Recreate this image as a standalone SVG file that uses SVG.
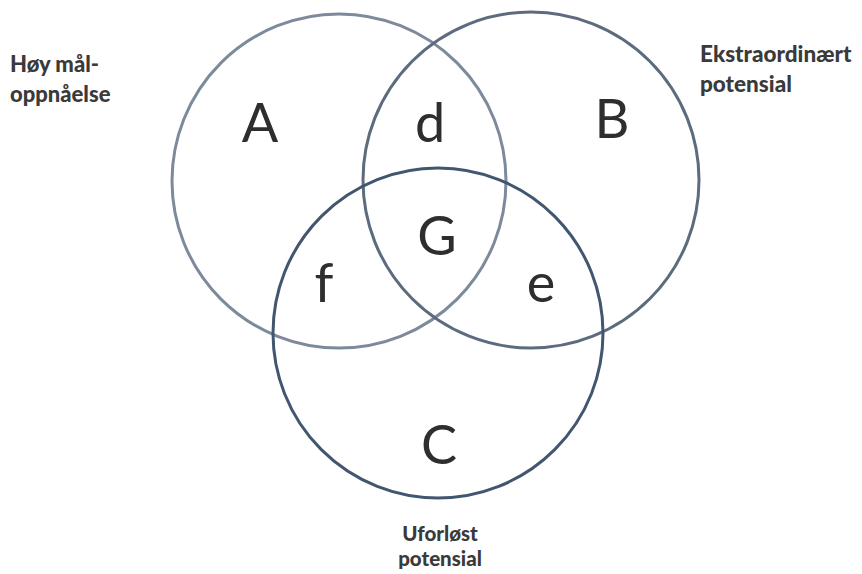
<svg xmlns="http://www.w3.org/2000/svg" width="862" height="574" viewBox="0 0 862 574">
<style>
.c{fill:none;stroke-width:3}
.lbl{font-family:Lato,"Open Sans",sans-serif;font-weight:900;fill:#3a3a3a}
.big{font-family:Lato,"Open Sans",sans-serif;font-size:54px;fill:#2e2e2e;text-anchor:middle}
</style>
<rect width="862" height="574" fill="#ffffff"/>
<g id="circleA"><circle class="c" cx="339" cy="181" r="167" stroke="#7d8a9b"/></g>
<g id="circleB"><circle class="c" cx="531" cy="180" r="168" stroke="#5d6b7e"/></g>
<g id="circleC"><circle class="c" cx="438" cy="333" r="165" stroke="#42566f"/></g>
<g id="labels">
<text class="lbl" x="10" y="72" font-size="22">Høy mål-</text>
<text class="lbl" x="10" y="102" font-size="22">oppnåelse</text>
<text class="lbl" x="700" y="62" font-size="22.5">Ekstraordinært</text>
<text class="lbl" x="700" y="92" font-size="22.5">potensial</text>
<text class="lbl" x="440" y="541" font-size="20.5" text-anchor="middle">Uforløst</text>
<text class="lbl" x="440" y="566" font-size="20.5" text-anchor="middle">potensial</text>
</g>
<g id="regions">
<text class="big" x="260" y="142" font-size="57">A</text>
<text class="big" x="430" y="142">d</text>
<text class="big" x="612" y="138">B</text>
<text class="big" x="437" y="255">G</text>
<text class="big" x="324" y="302">f</text>
<text class="big" x="541" y="302">e</text>
<text class="big" x="439" y="464">C</text>
</g>
</svg>
